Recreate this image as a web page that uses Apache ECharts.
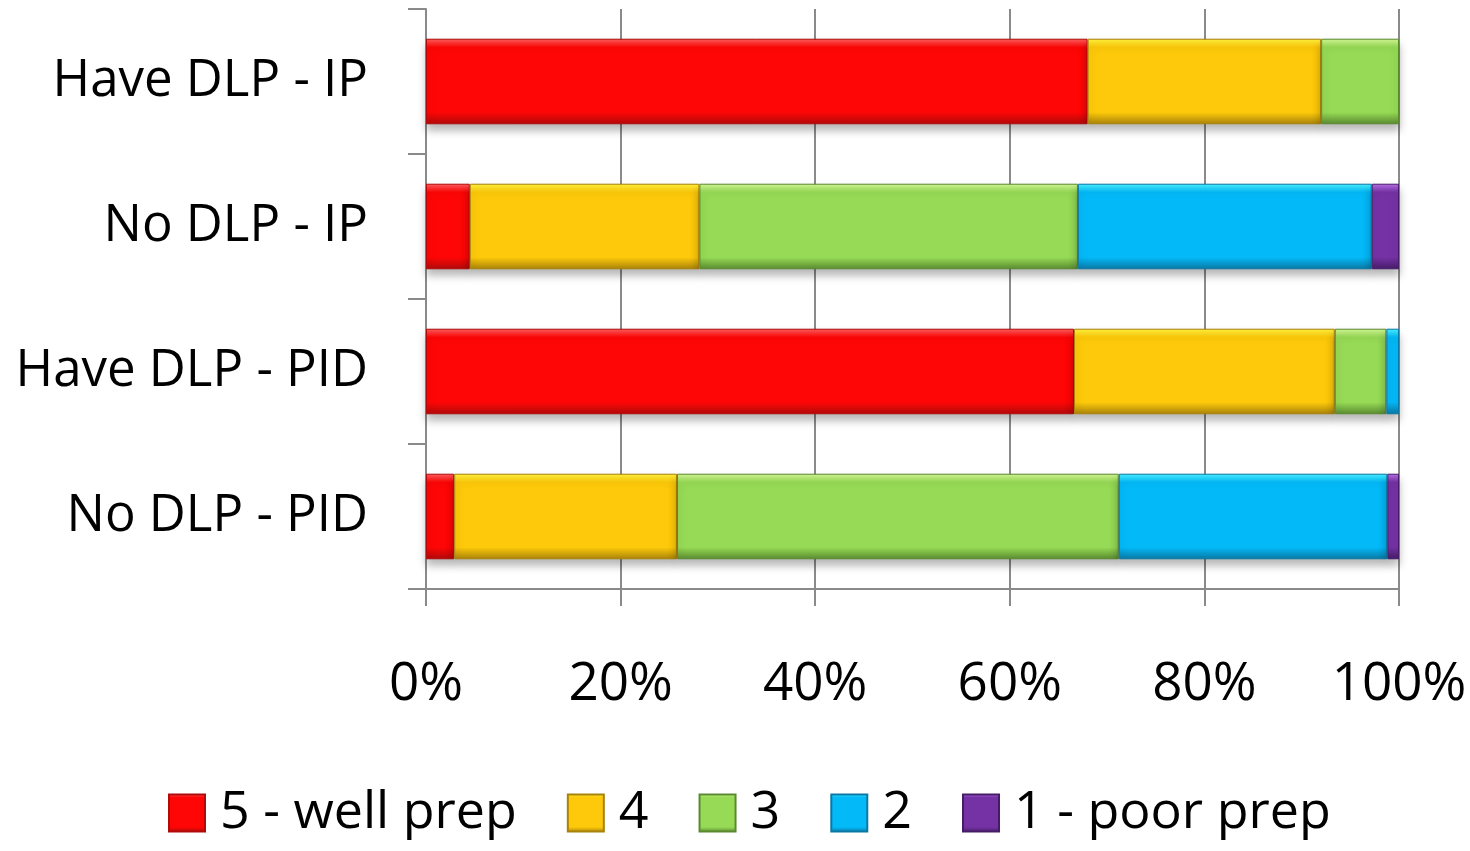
<!DOCTYPE html>
<html>
<head>
<meta charset="utf-8">
<script src="https://cdn.jsdelivr.net/npm/echarts@6/dist/echarts.min.js"></script>
<style>
  html, body { margin: 0; padding: 0; background: #ffffff; }
  #chart { width: 1470px; height: 851px; }
</style>
</head>
<body>
<div id="chart"></div>
<script>
// Preparedness ratings, share of respondents (%) per group
const categories = ['Have DLP - IP', 'No DLP - IP', 'Have DLP - PID', 'No DLP - PID'];
const ratingNames = ['5 - well prep', '4', '3', '2', '1 - poor prep'];
const wellPrep = [68.0, 4.5, 66.6, 2.9];
const rating4  = [24.0, 23.6, 26.8, 22.9];
const rating3  = [8.0, 38.9, 5.3, 45.4];
const rating2  = [0, 30.2, 1.3, 27.6];
const poorPrep = [0, 2.8, 0, 1.2];
const xTickValues = [0, 20, 40, 60, 80, 100];

const seriesValues = [wellPrep, rating4, rating3, rating2, poorPrep];
const palette = [
  { base: '#FE0606', light: '#FF6060', dark: '#B00A0A' },
  { base: '#FDC90A', light: '#FFF23C', dark: '#A8820A' },
  { base: '#96DA55', light: '#D2F794', dark: '#5A8A30' },
  { base: '#04B9F8', light: '#48F2FF', dark: '#0A78A4' },
  { base: '#7532A4', light: '#B870EA', dark: '#461C68' }
];

function bevelFill(c) {
  return new echarts.graphic.LinearGradient(0, 0, 0, 1, [
    { offset: 0, color: c.light },
    { offset: 0.1, color: c.base },
    { offset: 0.86, color: c.base },
    { offset: 1, color: c.dark }
  ]);
}

const chart = echarts.init(document.getElementById('chart'), null, { renderer: 'canvas' });

const axisGray = '#8A8A8A';
const fontFamily = "'Open Sans', 'Noto Sans', sans-serif";

chart.setOption({
  animation: false,
  backgroundColor: '#ffffff',
  grid: { left: 426, right: 71, top: 9, bottom: 262, containLabel: false },
  legend: {
    data: ratingNames,
    left: 163,
    top: 782,
    icon: 'rect',
    itemWidth: 36,
    itemHeight: 37,
    itemGap: 50,
    textStyle: {
      fontFamily: fontFamily,
      fontSize: 52,
      color: '#000000',
      padding: [0, 0, 0, 10]
    }
  },
  xAxis: {
    type: 'value',
    min: xTickValues[0],
    max: xTickValues[xTickValues.length - 1],
    interval: 20,
    axisLine: { show: true, lineStyle: { color: axisGray, width: 2 } },
    axisTick: { show: true, length: 17, lineStyle: { color: axisGray, width: 2 } },
    splitLine: { show: true, lineStyle: { color: axisGray, width: 2 } },
    axisLabel: {
      formatter: '{value}%',
      fontFamily: fontFamily,
      fontSize: 53,
      color: '#000000',
      margin: 69
    }
  },
  yAxis: {
    type: 'category',
    data: categories,
    inverse: true,
    axisLine: { show: true, lineStyle: { color: axisGray, width: 2 } },
    axisTick: { show: true, length: 18, lineStyle: { color: axisGray, width: 2 } },
    axisLabel: {
      fontFamily: fontFamily,
      fontSize: 51,
      color: '#000000',
      margin: 58,
      padding: [0, 0, 6, 0]
    }
  },
  series: ratingNames.map((name, i) => ({
    name: name,
    type: 'bar',
    stack: 'total',
    barCategoryGap: '41%',
    data: seriesValues[i].map(v => (v === 0 ? '-' : v)),
    itemStyle: {
      color: bevelFill(palette[i]),
      borderColor: palette[i].dark,
      borderWidth: 1,
      shadowColor: 'rgba(0,0,0,0.28)',
      shadowBlur: 8,
      shadowOffsetY: 6
    }
  }))
});
</script>
</body>
</html>
